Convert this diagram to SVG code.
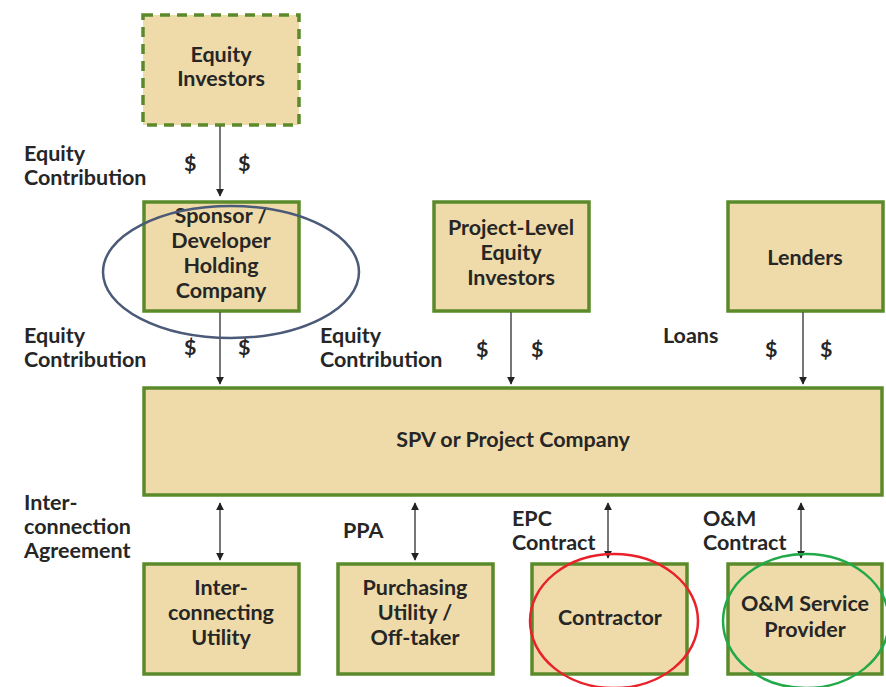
<svg xmlns="http://www.w3.org/2000/svg" width="886" height="687" viewBox="0 0 886 687">
<defs>
<style>
.box{fill:#efdba9;stroke:#5b8a2b;stroke-width:3.5}
.dash{stroke-dasharray:10 7}
.t{font-family:Lato,"Liberation Sans",sans-serif;font-weight:bold;font-size:21.5px;fill:#262626}
.c{text-anchor:middle}
.ln{stroke:#555;stroke-width:1.6;fill:none}
</style>
<marker id="ah" viewBox="0 0 10 10" refX="9" refY="5" markerWidth="8" markerHeight="8" markerUnits="userSpaceOnUse" orient="auto-start-reverse">
<path d="M0,0 L10,5 L0,10 z" fill="#222"/>
</marker>
</defs>
<rect width="886" height="687" fill="#fff"/>

<g id="equity-investors">
<rect class="box dash" x="143" y="15" width="156" height="110"/>
<text class="t c" x="221" y="62">Equity</text>
<text class="t c" x="221" y="86">Investors</text>
</g>
<g id="sponsor">
<rect class="box" x="144" y="202" width="155" height="109"/>
<text class="t c" x="221" y="223">Sponsor /</text>
<text class="t c" x="221" y="248">Developer</text>
<text class="t c" x="221" y="273">Holding</text>
<text class="t c" x="221" y="298">Company</text>
</g>
<g id="project-level">
<rect class="box" x="434" y="202" width="155" height="109"/>
<text class="t c" x="511" y="235">Project-Level</text>
<text class="t c" x="511" y="260">Equity</text>
<text class="t c" x="511" y="285">Investors</text>
</g>
<g id="lenders">
<rect class="box" x="728" y="202" width="155" height="109"/>
<text class="t c" x="805" y="265">Lenders</text>
</g>
<g id="spv">
<rect class="box" x="144" y="388" width="738" height="107"/>
<text class="t c" x="513" y="447">SPV or Project Company</text>
</g>
<g id="interconnecting">
<rect class="box" x="144" y="564" width="155" height="110"/>
<text class="t c" x="221" y="595">Inter-</text>
<text class="t c" x="221" y="620">connecting</text>
<text class="t c" x="221" y="645">Utility</text>
</g>
<g id="purchasing">
<rect class="box" x="338" y="564" width="155" height="110"/>
<text class="t c" x="415" y="595">Purchasing</text>
<text class="t c" x="415" y="620">Utility /</text>
<text class="t c" x="415" y="645">Off-taker</text>
</g>
<g id="contractor">
<rect class="box" x="532" y="564" width="155" height="110"/>
<text class="t c" x="610" y="625">Contractor</text>
</g>
<g id="om-provider">
<rect class="box" x="728" y="564" width="154" height="110"/>
<text class="t c" x="805" y="611">O&amp;M Service</text>
<text class="t c" x="805" y="637">Provider</text>
</g>

<g id="connectors">
<line class="ln" x1="220" y1="126" x2="220" y2="196" marker-end="url(#ah)"/>
<line class="ln" x1="220" y1="312" x2="220" y2="384" marker-end="url(#ah)"/>
<line class="ln" x1="511" y1="312" x2="511" y2="384" marker-end="url(#ah)"/>
<line class="ln" x1="803" y1="312" x2="803" y2="384" marker-end="url(#ah)"/>
<line class="ln" x1="220" y1="503" x2="220" y2="560" marker-start="url(#ah)" marker-end="url(#ah)"/>
<line class="ln" x1="415" y1="503" x2="415" y2="560" marker-start="url(#ah)" marker-end="url(#ah)"/>
<line class="ln" x1="608" y1="503" x2="608" y2="558" marker-start="url(#ah)" marker-end="url(#ah)"/>
<line class="ln" x1="801" y1="503" x2="801" y2="558" marker-start="url(#ah)" marker-end="url(#ah)"/>
</g>

<g id="labels">
<text class="t" x="24" y="161">Equity</text>
<text class="t" x="24" y="185">Contribution</text>
<text class="t" x="184" y="171">$</text>
<text class="t" x="238" y="171">$</text>
<text class="t" x="24" y="343">Equity</text>
<text class="t" x="24" y="367">Contribution</text>
<text class="t" x="184" y="355">$</text>
<text class="t" x="238" y="355">$</text>
<text class="t" x="320" y="343">Equity</text>
<text class="t" x="320" y="367">Contribution</text>
<text class="t" x="476" y="357">$</text>
<text class="t" x="531" y="357">$</text>
<text class="t" x="663" y="343">Loans</text>
<text class="t" x="765" y="357">$</text>
<text class="t" x="820" y="357">$</text>
<text class="t" x="24" y="510">Inter-</text>
<text class="t" x="24" y="534">connection</text>
<text class="t" x="24" y="558">Agreement</text>
<text class="t" x="343" y="538">PPA</text>
<text class="t" x="512" y="526">EPC</text>
<text class="t" x="512" y="550">Contract</text>
<text class="t" x="703" y="526">O&amp;M</text>
<text class="t" x="703" y="550">Contract</text>
</g>

<g id="highlights" fill="none" stroke-width="2.5">
<ellipse cx="231" cy="272" rx="128" ry="66" stroke="#4b5a78"/>
<ellipse cx="614" cy="621" rx="84" ry="67" stroke="#e8212a"/>
<ellipse cx="806" cy="621" rx="83" ry="67" stroke="#22a94a"/>
</g>
</svg>
